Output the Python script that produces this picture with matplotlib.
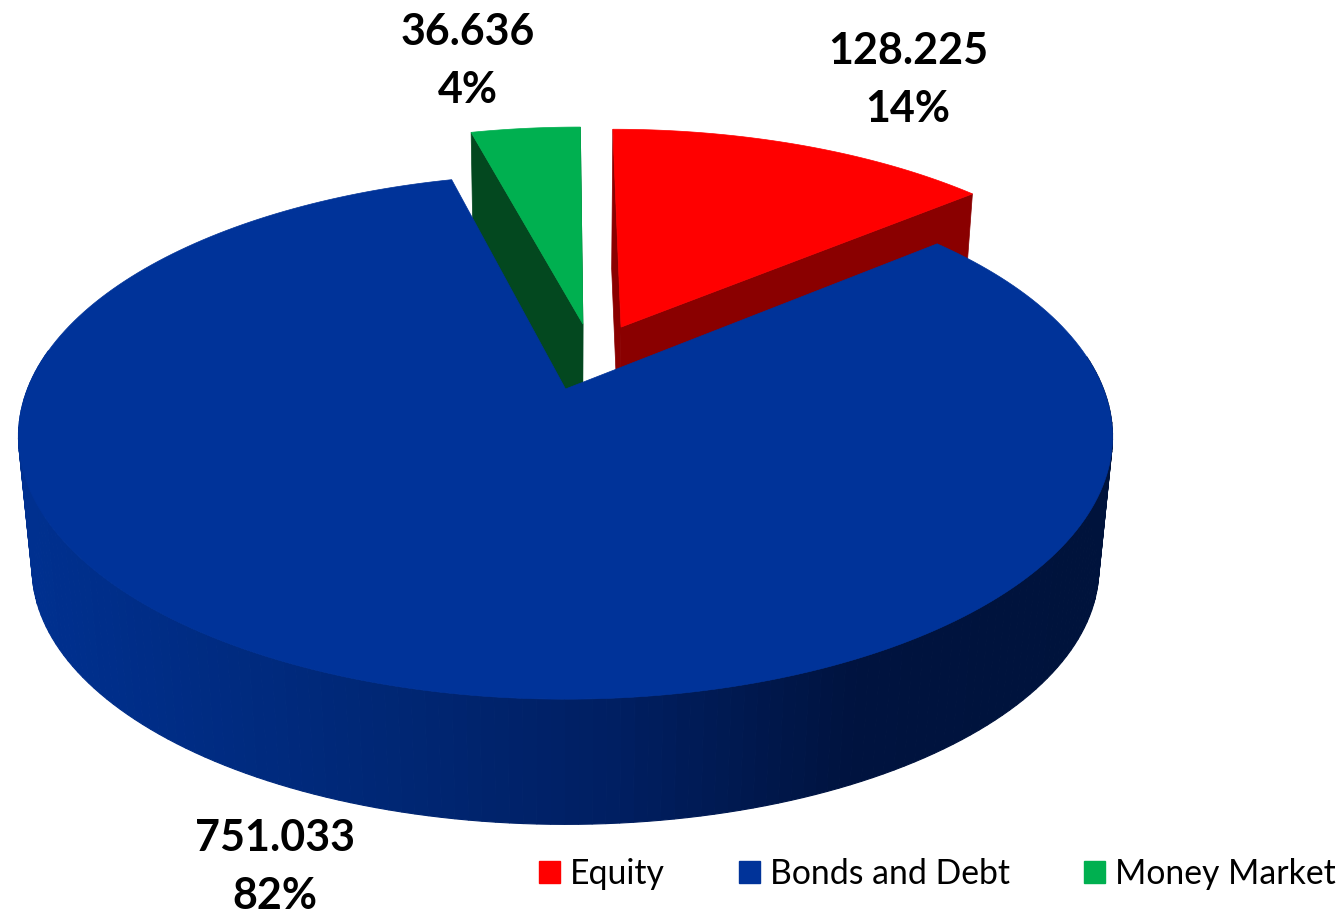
import numpy as np
import matplotlib
matplotlib.use("Agg")
import matplotlib.pyplot as plt
from matplotlib.patches import Polygon, Patch
from matplotlib.colors import LinearSegmentedColormap

categories = ["Equity", "Bonds and Debt", "Money Market"]
values = [128.225, 751.033, 36.636]
top_colors = ["#FF0000", "#003399", "#00B050"]
cut_colors = ["#8A0000", "#001F66", "#03481F"]
explode = [(0.108, 0.255), (0.0, 0.0), (0.034, 0.268)]
label_pos = [(908, 80), (275, 867), (468, 61)]

plt.rcParams["font.family"] = ["Lato", "DejaVu Sans"]
fig = plt.figure(figsize=(13.42, 9.18), dpi=100)
ax = fig.add_axes([0, 0, 1, 1])
ax.set_xlim(0, 1342)
ax.set_ylim(918, 0)
ax.axis("off")

# perspective of the pie plane, in pixels of the axes
AX, AY, A, B, K = 565.5, 389, 538, 254, 0.181
DEPTH, SHRINK = 133, 0.975
side_cmap = LinearSegmentedColormap.from_list(
    "side", [(0, "#00308F"), (0.3, "#002878"), (0.55, "#001F62"), (0.78, "#00133F"), (1, "#00133C")])


def top(X, Y):
    w = 1 + K * Y
    return AX + A * X / w, AY - B * Y / w


def bottom(x, y):
    return AX + (x - AX) * SHRINK, AY + DEPTH + (y - AY) * SHRINK


def wedge(a0, a1, off, n=240):
    t = np.radians(np.linspace(a0, a1, n))
    return off[0] + np.sin(t), off[1] + np.cos(t)


total = sum(values)
spans = [v / total * 360 for v in values]
starts = np.cumsum([0] + spans[:-1])
# painter's order: exploded slices first, the big one last
for i in [0, 2, 1]:
    a0, a1 = starts[i], starts[i] + spans[i]
    X, Y = wedge(a0, a1, explode[i])
    x, y = top(X, Y)
    cx, cy = top(*explode[i])
    # outer wall, as thin vertical strips shaded along x
    xb, yb = bottom(x, y)
    for j in range(len(x) - 1):
        if Y[j] > 0.15:
            continue
        shade = np.clip((x[j] - 30) / 1070, 0, 1)
        col = side_cmap(shade) if i == 1 else cut_colors[i]
        ax.add_patch(Polygon([(x[j], y[j]), (x[j + 1], y[j + 1]), (xb[j + 1], yb[j + 1]), (xb[j], yb[j])],
                             closed=True, fc=col, ec=col, lw=0.8))
    # cut faces of the exploded slices
    if i != 1:
        cxb, cyb = bottom(cx, cy)
        for e in (0, -1):
            ax.add_patch(Polygon([(cx, cy), (x[e], y[e]), (xb[e], yb[e]), (cxb, cyb)],
                                 closed=True, fc=cut_colors[i], ec=cut_colors[i], lw=0.5))
    ax.add_patch(Polygon(np.r_[[(cx, cy)], np.c_[x, y]], closed=True,
                         fc=top_colors[i], ec=top_colors[i], lw=0.5, zorder=3 if i == 1 else 2))

for v, pos in zip(values, label_pos):
    ax.text(pos[0], pos[1], f"{v:.3f}\n{v / total * 100:.0f}%", ha="center", va="center",
            fontsize=31, fontweight="bold", color="black", linespacing=1.55, zorder=5)

handles = [Patch(fc=c, ec=c) for c in top_colors]
ax.legend(handles, categories, loc="lower right", bbox_to_anchor=(1336, 918 - 28),
          bbox_transform=ax.transData, ncol=3, frameon=False, fontsize=24.3,
          handlelength=0.62, handleheight=0.62, handletextpad=0.3, columnspacing=2.2,
          borderpad=0, borderaxespad=0)

fig.savefig("out.png", dpi=100)
